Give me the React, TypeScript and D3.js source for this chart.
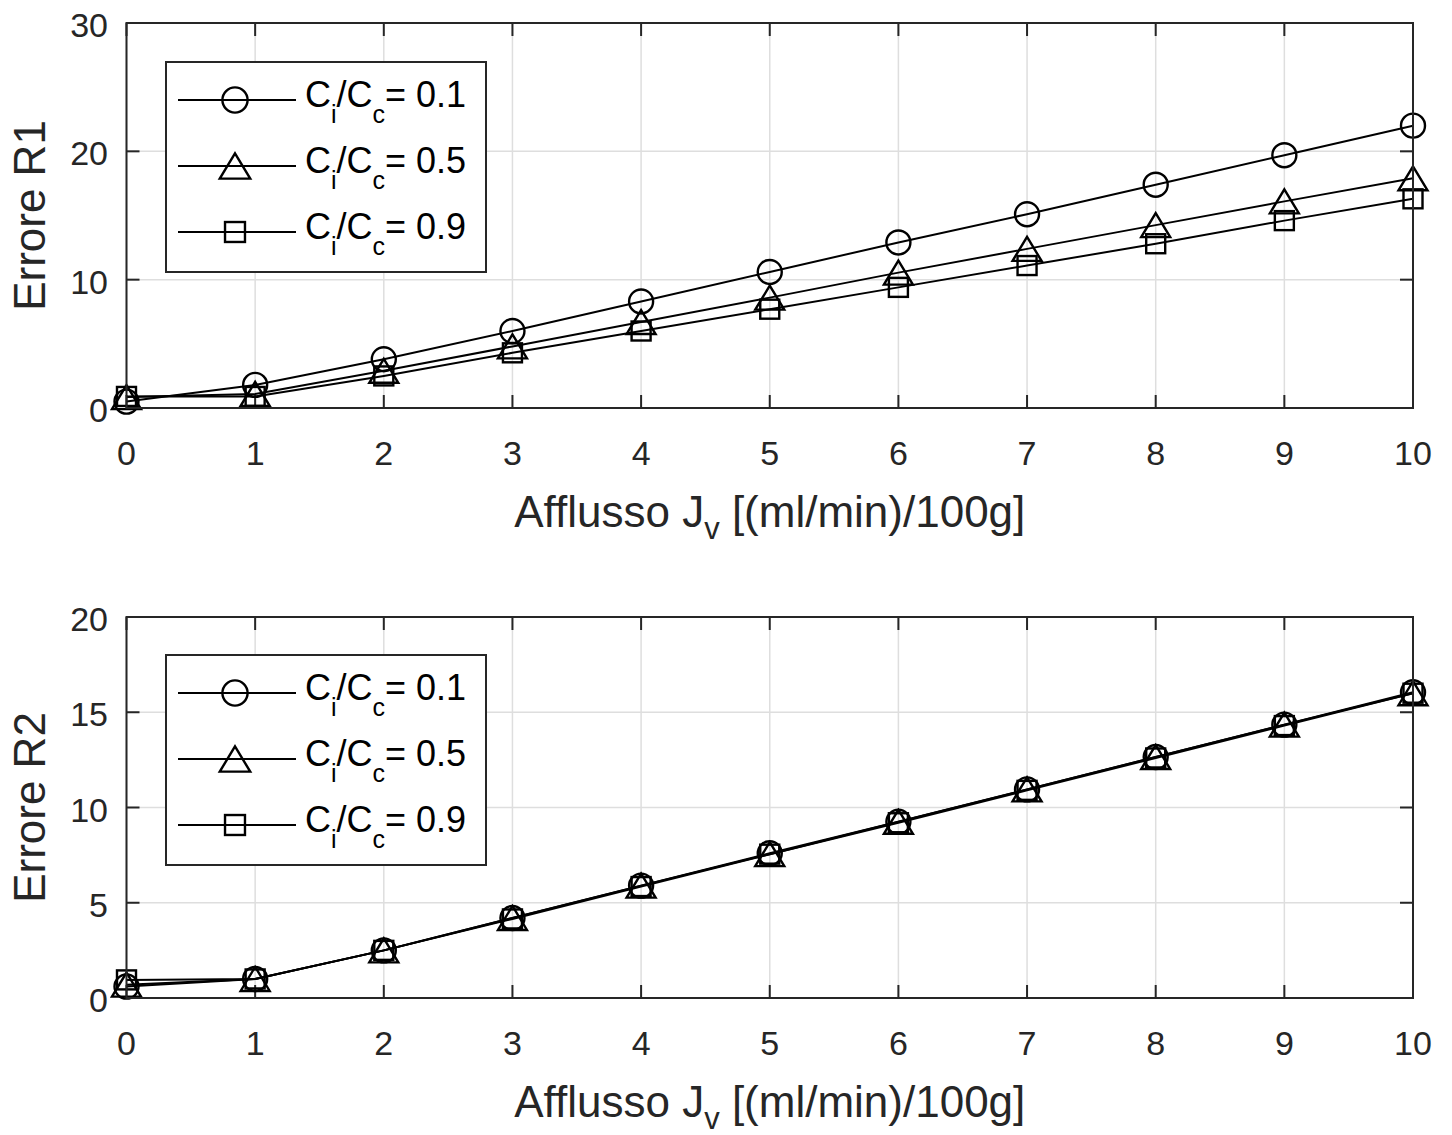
import React from "react";
import * as d3 from "d3";

const xValues = [0, 1, 2, 3, 4, 5, 6, 7, 8, 9, 10];
const r1Ratio01 = [0.5, 1.8, 3.8, 6.0, 8.3, 10.6, 12.9, 15.1, 17.4, 19.7, 22.0];
const r1Ratio05 = [0.85, 1.1, 2.9, 4.8, 6.7, 8.6, 10.55, 12.4, 14.25, 16.1, 17.9];
const r1Ratio09 = [0.9, 0.9, 2.5, 4.3, 6.0, 7.7, 9.4, 11.1, 12.8, 14.6, 16.3];
const r2Ratio01 = [0.6, 1.0, 2.5, 4.2, 5.9, 7.6, 9.25, 10.95, 12.65, 14.35, 16.05];
const r2Ratio05 = [0.7, 1.0, 2.5, 4.2, 5.9, 7.55, 9.25, 10.95, 12.65, 14.35, 16.0];
const r2Ratio09 = [0.95, 1.0, 2.5, 4.15, 5.85, 7.55, 9.2, 10.9, 12.6, 14.3, 16.0];
const seriesRatios = ["0.1", "0.5", "0.9"];
const markerKinds = ["circle", "triangle", "square"];
const xTicks = [0, 1, 2, 3, 4, 5, 6, 7, 8, 9, 10];
const yTicksTop = [0, 10, 20, 30];
const yTicksBottom = [0, 5, 10, 15, 20];

const FONT = "'Liberation Sans', Arial, Helvetica, sans-serif";
const AX = "#262626";

function Marker({ kind, cx, cy, scale = 1 }: { kind: string; cx: number; cy: number; scale?: number }) {
  const sw = 2.4;
  if (kind === "circle") {
    return <circle cx={cx} cy={cy} r={12 * scale} fill="none" stroke="#000" strokeWidth={sw} />;
  }
  if (kind === "triangle") {
    const w = 14.5 * scale;
    const h = 12 * scale;
    const p = `M${cx},${cy - h} L${cx + w},${cy + h} L${cx - w},${cy + h} Z`;
    return <path d={p} fill="none" stroke="#000" strokeWidth={sw} strokeLinejoin="miter" />;
  }
  const s = 9.5 * scale;
  return <rect x={cx - s} y={cy - s} width={2 * s} height={2 * s} fill="none" stroke="#000" strokeWidth={sw} />;
}

function Panel({
  top,
  bottom,
  yMax,
  yTicks,
  series,
  yLabel,
  legendTop,
}: {
  top: number;
  bottom: number;
  yMax: number;
  yTicks: number[];
  series: number[][];
  yLabel: string;
  legendTop: number;
}) {
  const left = 126.5;
  const right = 1413;
  const x = d3.scaleLinear().domain([0, 10]).range([left, right]);
  const y = d3.scaleLinear().domain([0, yMax]).range([bottom, top]);
  const line = d3
    .line<number>()
    .x((_, i) => x(xValues[i]))
    .y((d) => y(d));
  const tickLen = 13;
  const legLeft = 166;
  const legRight = 486;
  const legBottom = legendTop + 210;
  const rowGap = 66;
  return (
    <g>
      {xTicks.map((t) => (
        <line key={"gx" + t} x1={x(t)} x2={x(t)} y1={top} y2={bottom} stroke="#dedede" strokeWidth={1.5} />
      ))}
      {yTicks.map((t) => (
        <line key={"gy" + t} x1={left} x2={right} y1={y(t)} y2={y(t)} stroke="#dedede" strokeWidth={1.5} />
      ))}
      {xTicks.map((t) => (
        <g key={"tx" + t}>
          <line x1={x(t)} x2={x(t)} y1={bottom} y2={bottom - tickLen} stroke={AX} strokeWidth={2} />
          <line x1={x(t)} x2={x(t)} y1={top} y2={top + tickLen} stroke={AX} strokeWidth={2} />
          <text x={x(t)} y={bottom + 57} textAnchor="middle" fontSize={34} fill={AX} fontFamily={FONT}>
            {t}
          </text>
        </g>
      ))}
      {yTicks.map((t) => (
        <g key={"ty" + t}>
          <line x1={left} x2={left + tickLen} y1={y(t)} y2={y(t)} stroke={AX} strokeWidth={2} />
          <line x1={right} x2={right - tickLen} y1={y(t)} y2={y(t)} stroke={AX} strokeWidth={2} />
          <text x={108} y={y(t) + 14} textAnchor="end" fontSize={34} fill={AX} fontFamily={FONT}>
            {t}
          </text>
        </g>
      ))}
      {series.map((vals, si) => (
        <g key={"s" + si}>
          <path d={line(vals) || ""} fill="none" stroke="#000" strokeWidth={2} />
          {vals.map((v, i) => (
            <Marker key={i} kind={markerKinds[si]} cx={x(xValues[i])} cy={y(v)} />
          ))}
        </g>
      ))}
      <rect x={left} y={top} width={right - left} height={bottom - top} fill="none" stroke={AX} strokeWidth={2} />
      <rect x={legLeft} y={legendTop} width={legRight - legLeft} height={legBottom - legendTop} fill="#fff" stroke={AX} strokeWidth={2} />
      {seriesRatios.map((r, si) => {
        const ly = legendTop + 38 + si * rowGap;
        return (
          <g key={"l" + si}>
            <line x1={178} x2={296} y1={ly} y2={ly} stroke="#000" strokeWidth={2} />
            <Marker kind={markerKinds[si]} cx={235} cy={ly} scale={1.05} />
            <text x={305} y={ly + 7} fontSize={36} fill="#000" fontFamily={FONT}>
              C
              <tspan dy={16} fontSize={25}>i</tspan>
              <tspan dy={-16}>/C</tspan>
              <tspan dy={16} fontSize={25}>c</tspan>
              <tspan dy={-16}>= {r}</tspan>
            </text>
          </g>
        );
      })}
      <text
        transform={`translate(45,${(top + bottom) / 2}) rotate(-90)`}
        textAnchor="middle"
        fontSize={44}
        fill={AX}
        fontFamily={FONT}
      >
        {yLabel}
      </text>
      <text x={(left + right) / 2} y={bottom + 119} textAnchor="middle" fontSize={44} fill={AX} fontFamily={FONT}>
        Afflusso J
        <tspan dy={12} fontSize={31}>v</tspan>
        <tspan dy={-12}> [(ml/min)/100g]</tspan>
      </text>
    </g>
  );
}

export default function App() {
  return (
    <svg width={1452} height={1135} style={{ display: "block", position: "absolute", left: 0, top: 0 }}>
      <rect x={0} y={0} width={1452} height={1135} fill="#fff" />
      <Panel
        top={23}
        bottom={408}
        yMax={30}
        yTicks={yTicksTop}
        series={[r1Ratio01, r1Ratio05, r1Ratio09]}
        yLabel="Errore R1"
        legendTop={62}
      />
      <Panel
        top={617}
        bottom={998}
        yMax={20}
        yTicks={yTicksBottom}
        series={[r2Ratio01, r2Ratio05, r2Ratio09]}
        yLabel="Errore R2"
        legendTop={655}
      />
    </svg>
  );
}
